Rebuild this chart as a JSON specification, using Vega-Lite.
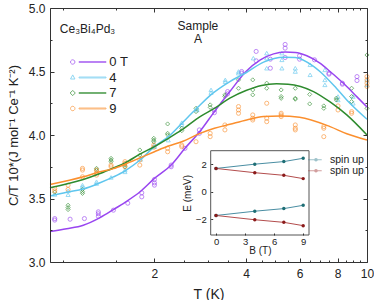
{
  "$schema": "https://vega.github.io/schema/vega-lite/v6.json",
  "width": 317,
  "height": 254,
  "autosize": "none",
  "padding": {"left": 50, "top": 8, "right": 7, "bottom": 38},
  "config": {
    "font": "Liberation Sans",
    "view": {"stroke": null},
    "axis": {"grid": false, "domainColor": "#333", "tickColor": "#333", "labelColor": "#222", "titleColor": "#222", "labelFont": "Liberation Sans", "titleFont": "Liberation Sans", "titleFontWeight": "normal"},
    "legend": {"labelFont": "Liberation Sans", "labelColor": "#222"}
  },
  "datasets": {
    "pts": [
      {"T":0.94,"C":3.342,"s":"0 T"},{"T":0.94,"C":3.33,"s":"0 T"},{"T":1.056,"C":3.337,"s":"0 T"},{"T":1.177,"C":3.342,"s":"0 T"},{"T":1.308,"C":3.395,"s":"0 T"},{"T":1.308,"C":3.38,"s":"0 T"},{"T":1.308,"C":3.36,"s":"0 T"},{"T":1.466,"C":3.408,"s":"0 T"},{"T":1.634,"C":3.463,"s":"0 T"},{"T":1.817,"C":3.545,"s":"0 T"},{"T":1.817,"C":3.513,"s":"0 T"},{"T":2.0,"C":3.65,"s":"0 T"},{"T":2.0,"C":3.623,"s":"0 T"},{"T":2.0,"C":3.605,"s":"0 T"},{"T":2.27,"C":3.763,"s":"0 T"},{"T":2.27,"C":3.75,"s":"0 T"},{"T":2.52,"C":3.895,"s":"0 T"},{"T":2.81,"C":4.04,"s":"0 T"},{"T":2.81,"C":4.013,"s":"0 T"},{"T":3.15,"C":4.176,"s":"0 T"},{"T":3.15,"C":4.197,"s":"0 T"},{"T":3.48,"C":4.342,"s":"0 T"},{"T":3.48,"C":4.324,"s":"0 T"},{"T":3.87,"C":4.5,"s":"0 T"},{"T":3.87,"C":4.487,"s":"0 T"},{"T":4.32,"C":4.658,"s":"0 T"},{"T":4.32,"C":4.584,"s":"0 T"},{"T":4.81,"C":4.597,"s":"0 T"},{"T":4.81,"C":4.526,"s":"0 T"},{"T":5.38,"C":4.713,"s":"0 T"},{"T":5.38,"C":4.684,"s":"0 T"},{"T":5.38,"C":4.61,"s":"0 T"},{"T":6.0,"C":4.624,"s":"0 T"},{"T":6.0,"C":4.597,"s":"0 T"},{"T":6.72,"C":4.592,"s":"0 T"},{"T":7.5,"C":4.487,"s":"0 T"},{"T":7.5,"C":4.479,"s":"0 T"},{"T":8.3,"C":4.408,"s":"0 T"},{"T":8.3,"C":4.4,"s":"0 T"},{"T":9.27,"C":4.46,"s":"0 T"},{"T":9.27,"C":4.429,"s":"0 T"},
      {"T":0.94,"C":3.532,"s":"4"},{"T":1.04,"C":3.56,"s":"4"},{"T":1.04,"C":3.53,"s":"4"},{"T":1.16,"C":3.605,"s":"4"},{"T":1.16,"C":3.592,"s":"4"},{"T":1.29,"C":3.632,"s":"4"},{"T":1.29,"C":3.618,"s":"4"},{"T":1.44,"C":3.666,"s":"4"},{"T":1.6,"C":3.724,"s":"4"},{"T":1.6,"C":3.71,"s":"4"},{"T":1.8,"C":3.808,"s":"4"},{"T":2.0,"C":3.908,"s":"4"},{"T":2.0,"C":3.92,"s":"4"},{"T":2.22,"C":3.96,"s":"4"},{"T":2.46,"C":4.097,"s":"4"},{"T":2.46,"C":4.08,"s":"4"},{"T":2.76,"C":4.21,"s":"4"},{"T":2.76,"C":4.197,"s":"4"},{"T":3.07,"C":4.355,"s":"4"},{"T":3.07,"C":4.334,"s":"4"},{"T":3.42,"C":4.434,"s":"4"},{"T":3.42,"C":4.42,"s":"4"},{"T":3.78,"C":4.5,"s":"4"},{"T":3.78,"C":4.487,"s":"4"},{"T":4.23,"C":4.605,"s":"4"},{"T":4.68,"C":4.645,"s":"4"},{"T":4.68,"C":4.605,"s":"4"},{"T":4.68,"C":4.526,"s":"4"},{"T":5.25,"C":4.645,"s":"4"},{"T":5.25,"C":4.592,"s":"4"},{"T":5.25,"C":4.526,"s":"4"},{"T":5.81,"C":4.526,"s":"4"},{"T":5.81,"C":4.5,"s":"4"},{"T":6.5,"C":4.553,"s":"4"},{"T":6.5,"C":4.474,"s":"4"},{"T":7.27,"C":4.513,"s":"4"},{"T":7.27,"C":4.434,"s":"4"},{"T":7.27,"C":4.395,"s":"4"},{"T":8.03,"C":4.303,"s":"4"},{"T":8.03,"C":4.276,"s":"4"},{"T":9.0,"C":4.303,"s":"4"},{"T":9.0,"C":4.25,"s":"4"},{"T":10,"C":4.434,"s":"4"},{"T":10,"C":4.395,"s":"4"},
      {"T":0.94,"C":3.55,"s":"7"},{"T":1.04,"C":3.447,"s":"7"},{"T":1.04,"C":3.429,"s":"7"},{"T":1.04,"C":3.413,"s":"7"},{"T":1.16,"C":3.571,"s":"7"},{"T":1.16,"C":3.553,"s":"7"},{"T":1.16,"C":3.54,"s":"7"},{"T":1.29,"C":3.737,"s":"7"},{"T":1.29,"C":3.724,"s":"7"},{"T":1.44,"C":3.816,"s":"7"},{"T":1.44,"C":3.803,"s":"7"},{"T":1.44,"C":3.79,"s":"7"},{"T":1.6,"C":3.763,"s":"7"},{"T":1.6,"C":3.75,"s":"7"},{"T":1.79,"C":3.882,"s":"7"},{"T":1.79,"C":3.842,"s":"7"},{"T":1.99,"C":3.974,"s":"7"},{"T":1.99,"C":3.96,"s":"7"},{"T":1.99,"C":3.947,"s":"7"},{"T":2.21,"C":4.087,"s":"7"},{"T":2.21,"C":4.013,"s":"7"},{"T":2.21,"C":4.0,"s":"7"},{"T":2.46,"C":4.053,"s":"7"},{"T":2.46,"C":4.034,"s":"7"},{"T":2.74,"C":4.21,"s":"7"},{"T":2.74,"C":4.184,"s":"7"},{"T":3.05,"C":4.237,"s":"7"},{"T":3.05,"C":4.218,"s":"7"},{"T":3.41,"C":4.316,"s":"7"},{"T":3.41,"C":4.303,"s":"7"},{"T":3.78,"C":4.434,"s":"7"},{"T":3.78,"C":4.368,"s":"7"},{"T":4.21,"C":4.434,"s":"7"},{"T":4.21,"C":4.355,"s":"7"},{"T":4.21,"C":4.316,"s":"7"},{"T":4.68,"C":4.408,"s":"7"},{"T":4.68,"C":4.368,"s":"7"},{"T":5.22,"C":4.355,"s":"7"},{"T":5.22,"C":4.303,"s":"7"},{"T":5.22,"C":4.289,"s":"7"},{"T":5.81,"C":4.368,"s":"7"},{"T":5.81,"C":4.289,"s":"7"},{"T":5.81,"C":4.282,"s":"7"},{"T":6.48,"C":4.32,"s":"7"},{"T":6.48,"C":4.245,"s":"7"},{"T":7.21,"C":4.229,"s":"7"},{"T":7.21,"C":4.21,"s":"7"},{"T":7.93,"C":4.29,"s":"7"},{"T":7.93,"C":4.276,"s":"7"},{"T":8.9,"C":4.368,"s":"7"},{"T":8.9,"C":4.303,"s":"7"},{"T":8.9,"C":4.263,"s":"7"},{"T":10,"C":4.63,"s":"7"},{"T":10,"C":4.21,"s":"7"},
      {"T":0.94,"C":3.579,"s":"9"},{"T":0.94,"C":3.56,"s":"9"},{"T":1.04,"C":3.605,"s":"9"},{"T":1.04,"C":3.571,"s":"9"},{"T":1.16,"C":3.737,"s":"9"},{"T":1.16,"C":3.724,"s":"9"},{"T":1.16,"C":3.671,"s":"9"},{"T":1.29,"C":3.724,"s":"9"},{"T":1.29,"C":3.703,"s":"9"},{"T":1.29,"C":3.684,"s":"9"},{"T":1.44,"C":3.763,"s":"9"},{"T":1.44,"C":3.75,"s":"9"},{"T":1.6,"C":3.79,"s":"9"},{"T":1.6,"C":3.776,"s":"9"},{"T":1.6,"C":3.75,"s":"9"},{"T":1.79,"C":3.803,"s":"9"},{"T":1.79,"C":3.763,"s":"9"},{"T":1.99,"C":3.92,"s":"9"},{"T":1.99,"C":3.903,"s":"9"},{"T":2.21,"C":3.895,"s":"9"},{"T":2.21,"C":3.868,"s":"9"},{"T":2.46,"C":3.92,"s":"9"},{"T":2.46,"C":3.908,"s":"9"},{"T":2.74,"C":3.947,"s":"9"},{"T":3.05,"C":4.013,"s":"9"},{"T":3.05,"C":3.987,"s":"9"},{"T":3.41,"C":4.079,"s":"9"},{"T":3.41,"C":4.04,"s":"9"},{"T":3.78,"C":4.224,"s":"9"},{"T":3.78,"C":4.197,"s":"9"},{"T":3.78,"C":4.171,"s":"9"},{"T":4.21,"C":4.158,"s":"9"},{"T":4.21,"C":4.132,"s":"9"},{"T":4.21,"C":4.118,"s":"9"},{"T":4.68,"C":4.25,"s":"9"},{"T":4.68,"C":4.132,"s":"9"},{"T":4.68,"C":4.105,"s":"9"},{"T":5.22,"C":4.171,"s":"9"},{"T":5.22,"C":4.158,"s":"9"},{"T":5.22,"C":4.145,"s":"9"},{"T":5.81,"C":4.079,"s":"9"},{"T":5.81,"C":4.053,"s":"9"},{"T":5.81,"C":4.04,"s":"9"},{"T":7.21,"C":4.066,"s":"9"},{"T":7.21,"C":4.053,"s":"9"},{"T":7.21,"C":3.987,"s":"9"},{"T":8.03,"C":4.229,"s":"9"},{"T":8.03,"C":4.197,"s":"9"},{"T":8.9,"C":4.184,"s":"9"},{"T":8.9,"C":4.171,"s":"9"},{"T":10,"C":4.46,"s":"9"},{"T":10,"C":4.434,"s":"9"},{"T":10,"C":4.408,"s":"9"},{"T":10,"C":4.382,"s":"9"}
    ],
    "fit": [
      {"T":0.907,"C":3.24,"s":"0 T"},{"T":1.029,"C":3.262,"s":"0 T"},{"T":1.167,"C":3.29,"s":"0 T"},{"T":1.325,"C":3.35,"s":"0 T"},{"T":1.466,"C":3.413,"s":"0 T"},{"T":1.601,"C":3.47,"s":"0 T"},{"T":1.794,"C":3.553,"s":"0 T"},{"T":2.0,"C":3.658,"s":"0 T"},{"T":2.27,"C":3.763,"s":"0 T"},{"T":2.52,"C":3.895,"s":"0 T"},{"T":2.83,"C":4.032,"s":"0 T"},{"T":3.15,"C":4.184,"s":"0 T"},{"T":3.54,"C":4.342,"s":"0 T"},{"T":4.0,"C":4.5,"s":"0 T"},{"T":4.46,"C":4.592,"s":"0 T"},{"T":4.93,"C":4.639,"s":"0 T"},{"T":5.38,"C":4.653,"s":"0 T"},{"T":5.81,"C":4.65,"s":"0 T"},{"T":6.34,"C":4.624,"s":"0 T"},{"T":7.0,"C":4.566,"s":"0 T"},{"T":7.56,"C":4.5,"s":"0 T"},{"T":8.58,"C":4.382,"s":"0 T"},{"T":9.27,"C":4.3,"s":"0 T"},{"T":10,"C":4.22,"s":"0 T"},
      {"T":0.907,"C":3.52,"s":"4"},{"T":1.029,"C":3.55,"s":"4"},{"T":1.167,"C":3.575,"s":"4"},{"T":1.325,"C":3.624,"s":"4"},{"T":1.466,"C":3.67,"s":"4"},{"T":1.601,"C":3.718,"s":"4"},{"T":1.794,"C":3.803,"s":"4"},{"T":2.0,"C":3.908,"s":"4"},{"T":2.224,"C":3.987,"s":"4"},{"T":2.46,"C":4.092,"s":"4"},{"T":2.756,"C":4.21,"s":"4"},{"T":3.064,"C":4.316,"s":"4"},{"T":3.54,"C":4.421,"s":"4"},{"T":4.0,"C":4.49,"s":"4"},{"T":4.57,"C":4.574,"s":"4"},{"T":5.32,"C":4.613,"s":"4"},{"T":5.81,"C":4.61,"s":"4"},{"T":6.67,"C":4.54,"s":"4"},{"T":7.0,"C":4.5,"s":"4"},{"T":7.93,"C":4.368,"s":"4"},{"T":8.58,"C":4.276,"s":"4"},{"T":10,"C":4.124,"s":"4"},
      {"T":0.907,"C":3.585,"s":"7"},{"T":1.167,"C":3.65,"s":"7"},{"T":1.325,"C":3.697,"s":"7"},{"T":1.466,"C":3.74,"s":"7"},{"T":1.601,"C":3.78,"s":"7"},{"T":1.794,"C":3.85,"s":"7"},{"T":2.0,"C":3.908,"s":"7"},{"T":2.224,"C":3.974,"s":"7"},{"T":2.46,"C":4.04,"s":"7"},{"T":2.826,"C":4.145,"s":"7"},{"T":3.15,"C":4.21,"s":"7"},{"T":3.54,"C":4.29,"s":"7"},{"T":4.0,"C":4.35,"s":"7"},{"T":4.5,"C":4.39,"s":"7"},{"T":5.04,"C":4.403,"s":"7"},{"T":5.5,"C":4.4,"s":"7"},{"T":6.67,"C":4.342,"s":"7"},{"T":7.56,"C":4.26,"s":"7"},{"T":8.58,"C":4.158,"s":"7"},{"T":10,"C":4.0,"s":"7"},
      {"T":0.907,"C":3.61,"s":"9"},{"T":1.167,"C":3.671,"s":"9"},{"T":1.325,"C":3.71,"s":"9"},{"T":1.466,"C":3.735,"s":"9"},{"T":1.601,"C":3.77,"s":"9"},{"T":1.794,"C":3.82,"s":"9"},{"T":2.0,"C":3.868,"s":"9"},{"T":2.224,"C":3.913,"s":"9"},{"T":2.46,"C":3.947,"s":"9"},{"T":2.826,"C":4.013,"s":"9"},{"T":3.15,"C":4.053,"s":"9"},{"T":3.54,"C":4.084,"s":"9"},{"T":4.02,"C":4.118,"s":"9"},{"T":4.57,"C":4.145,"s":"9"},{"T":5.18,"C":4.15,"s":"9"},{"T":6.0,"C":4.14,"s":"9"},{"T":7.56,"C":4.066,"s":"9"},{"T":8.58,"C":4.01,"s":"9"},{"T":10,"C":3.96,"s":"9"}
    ],
    "ins": [
      {"B":0,"E":1.71,"spin":"a","branch":"ua"},{"B":4,"E":2.02,"spin":"a","branch":"ua"},{"B":7,"E":2.21,"spin":"a","branch":"ua"},{"B":9,"E":2.45,"spin":"a","branch":"ua"},
      {"B":0,"E":-1.71,"spin":"a","branch":"la"},{"B":4,"E":-1.4,"spin":"a","branch":"la"},{"B":7,"E":-1.21,"spin":"a","branch":"la"},{"B":9,"E":-0.97,"spin":"a","branch":"la"},
      {"B":0,"E":1.71,"spin":"b","branch":"ub"},{"B":4,"E":1.4,"spin":"b","branch":"ub"},{"B":7,"E":1.21,"spin":"b","branch":"ub"},{"B":9,"E":0.97,"spin":"b","branch":"ub"},
      {"B":0,"E":-1.71,"spin":"b","branch":"lb"},{"B":4,"E":-2.02,"spin":"b","branch":"lb"},{"B":7,"E":-2.21,"spin":"b","branch":"lb"},{"B":9,"E":-2.45,"spin":"b","branch":"lb"}
    ]
  },
  "layer": [
    {
      "layer": [
        {
          "data": {"name": "pts"},
          "mark": {"type": "point", "filled": false, "strokeWidth": 0.9, "size": 17},
          "encoding": {
            "x": {"field": "T", "type": "quantitative", "scale": {"type": "log", "domain": [0.907, 10], "nice": false},
              "axis": {"orient": "bottom", "values": [1,1.5,2,2.5,3,3.5,4,4.5,5,5.5,6,6.5,7,7.5,8,8.5,9,9.5,10],
                "labelExpr": "datum.value % 2 === 0 ? format(datum.value, 'd') : ''",
                "tickSize": {"condition": {"test": "datum.value % 2 === 0", "value": -4}, "value": -2},
                "labelPadding": 10, "labelFontSize": 12, "labelOverlap": false, "labelFlush": false,
                "title": "T (K)", "titleFontSize": 14, "titlePadding": 6, "zindex": 1}},
            "y": {"field": "C", "type": "quantitative", "scale": {"domain": [3, 5], "nice": false, "zero": false},
              "axis": {"orient": "left", "values": [3,3.25,3.5,3.75,4,4.25,4.5,4.75,5],
                "labelExpr": "datum.value * 2 % 1 === 0 ? format(datum.value, '.1f') : ''",
                "tickSize": {"condition": {"test": "datum.value * 2 % 1 === 0", "value": -4}, "value": -2},
                "labelPadding": 9, "labelFontSize": 12, "labelOverlap": false,
                "title": "C/T 10*(J mol⁻¹ Ce⁻¹ K⁻²)", "titleFontSize": 13, "titlePadding": 8, "zindex": 1}},
            "color": {"field": "s", "type": "nominal", "scale": {"domain": ["0 T","4","7","9"], "range": ["#9945f0","#5fc6ee","#2e8b2e","#fb8f2e"]}, "legend": null},
            "shape": {"field": "s", "type": "nominal", "scale": {"domain": ["0 T","4","7","9"], "range": ["circle","triangle-up","diamond","circle"]}, "legend": null}
          }
        },
        {
          "data": {"name": "fit"},
          "mark": {"type": "line", "strokeWidth": 1.5, "interpolate": "monotone"},
          "encoding": {
            "x": {"field": "T", "type": "quantitative", "scale": {"type": "log", "domain": [0.907, 10], "nice": false}, "axis": null},
            "y": {"field": "C", "type": "quantitative", "scale": {"domain": [3, 5], "nice": false, "zero": false}, "axis": null},
            "color": {"field": "s", "type": "nominal", "scale": {"domain": ["0 T","4","7","9"], "range": ["#9945f0","#5fc6ee","#2e8b2e","#fb8f2e"]}, "legend": null}
          }
        },
        {
          "data": {"name": "pts"},
          "transform": [{"filter": "false"}],
          "mark": {"type": "point", "filled": false, "strokeWidth": 1},
          "encoding": {
            "x": {"field": "T", "type": "quantitative", "axis": null},
            "y": {"field": "C", "type": "quantitative", "axis": null},
            "color": {"field": "s", "type": "nominal", "scale": {"domain": ["0 T","4","7","9"], "range": ["#9945f0","#5fc6ee","#2e8b2e","#fb8f2e"]},
              "legend": {"orient": "none", "legendX": 44.3, "legendY": 47.5, "title": null, "symbolSize": 144, "symbolStrokeWidth": 1, "labelFontSize": 13, "labelOffset": 2, "rowPadding": 1.5}},
            "shape": {"field": "s", "type": "nominal", "scale": {"domain": ["0 T","4","7","9"], "range": [
              "M-4.31,0L-4.36,0.185L-4.495,0.32L-4.68,0.37L-4.865,0.32L-5,0.185L-5.05,0L-5,-0.185L-4.865,-0.32L-4.68,-0.37L-4.495,-0.32L-4.36,-0.185ZM-3.63,-0.075L0.87,-0.075L0.87,0.075L-3.63,0.075Z",
              "M-4.68,-0.43L-4.31,0.25L-5.05,0.25ZM-3.63,-0.075L0.87,-0.075L0.87,0.075L-3.63,0.075Z",
              "M-4.68,-0.43L-4.25,0L-4.68,0.43L-5.11,0ZM-3.63,-0.075L0.87,-0.075L0.87,0.075L-3.63,0.075Z",
              "M-4.31,0L-4.36,0.185L-4.495,0.32L-4.68,0.37L-4.865,0.32L-5,0.185L-5.05,0L-5,-0.185L-4.865,-0.32L-4.68,-0.37L-4.495,-0.32L-4.36,-0.185ZM-3.63,-0.075L0.87,-0.075L0.87,0.075L-3.63,0.075Z"]},
              "legend": {"orient": "none", "legendX": 44.3, "legendY": 47.5, "title": null, "symbolSize": 144, "symbolStrokeWidth": 1, "labelFontSize": 13, "labelOffset": 2, "rowPadding": 1.5}}
          }
        },
        {
          "data": {"values": [{}]},
          "mark": {"type": "text", "fontSize": 12, "color": "#222", "align": "center", "baseline": "middle"},
          "encoding": {
            "x": {"datum": 1.205, "type": "quantitative", "axis": null},
            "y": {"datum": 4.835, "type": "quantitative", "axis": null},
            "text": {"value": "Ce₃Bi₄Pd₃"}
          }
        },
        {
          "data": {"values": [{}]},
          "mark": {"type": "text", "fontSize": 12, "color": "#222", "align": "center", "baseline": "top", "lineBreak": "\n", "lineHeight": 13},
          "encoding": {
            "x": {"datum": 2.779, "type": "quantitative", "axis": null},
            "y": {"datum": 4.898, "type": "quantitative", "axis": null},
            "text": {"value": "Sample\nA"}
          }
        },
        {
          "data": {"name": "fit"},
          "mark": {"type": "point", "opacity": 0},
          "encoding": {
            "x": {"field": "T", "type": "quantitative",
              "axis": {"orient": "top", "values": [1,1.5,2,2.5,3,3.5,4,4.5,5,5.5,6,6.5,7,7.5,8,8.5,9,9.5,10], "labels": false, "title": null,
                "tickSize": {"condition": {"test": "datum.value % 2 === 0", "value": -4}, "value": -2}, "zindex": 1}},
            "y": {"field": "C", "type": "quantitative",
              "axis": {"orient": "right", "values": [3,3.25,3.5,3.75,4,4.25,4.5,4.75,5], "labels": false, "title": null,
                "tickSize": {"condition": {"test": "datum.value * 2 % 1 === 0", "value": -4}, "value": -2}, "zindex": 1}}
          }
        }
      ],
      "resolve": {"scale": {"color": "independent", "shape": "independent"}, "axis": {"x": "independent", "y": "independent"}}
    },
    {
      "layer": [
        {
          "data": {"values": [{}]},
          "mark": {"type": "rect", "fill": "white", "stroke": "#555", "strokeWidth": 1},
          "encoding": {
            "x": {"datum": -0.55, "type": "quantitative", "axis": null},
            "x2": {"datum": 9.6},
            "y": {"datum": -3.13, "type": "quantitative", "axis": null},
            "y2": {"datum": 3.0}
          }
        },
        {
          "data": {"name": "ins"},
          "mark": {"type": "line", "strokeWidth": 1},
          "encoding": {
            "x": {"field": "B", "type": "quantitative", "scale": {"domain": [-0.55, 9.6], "range": [160.7, 259], "nice": false, "zero": false},
              "axis": {"orient": "bottom", "offset": -27, "values": [0,3,6,9], "format": "d", "tickSize": -2, "labelPadding": 3, "labelFontSize": 9.5, "domain": false,
                "title": "B (T)", "titleFontSize": 10, "titlePadding": 0, "zindex": 2}},
            "y": {"field": "E", "type": "quantitative", "scale": {"domain": [-3.13, 3.0], "range": [227, 142.7], "nice": false, "zero": false},
              "axis": {"orient": "left", "offset": -160.7, "values": [-2,0,2], "format": "d", "tickSize": -2, "labelPadding": 6.5, "labelFontSize": 9.5, "domain": false,
                "title": "E (meV)", "titleFontSize": 10, "titlePadding": 2.5, "zindex": 2}},
            "color": {"field": "spin", "type": "nominal", "scale": {"domain": ["a","b"], "range": ["#4a8ea3","#b34d4d"]}, "legend": null},
            "detail": {"field": "branch"}
          }
        },
        {
          "data": {"name": "ins"},
          "mark": {"type": "point", "filled": true, "size": 12, "opacity": 1},
          "encoding": {
            "x": {"field": "B", "type": "quantitative", "axis": null},
            "y": {"field": "E", "type": "quantitative", "axis": null},
            "fill": {"field": "spin", "type": "nominal", "scale": {"domain": ["a","b"], "range": ["#1e6e74","#8b1a1a"]}, "legend": null}
          }
        },
        {
          "data": {"name": "ins"},
          "transform": [{"filter": "false"}],
          "mark": {"type": "point", "filled": true},
          "encoding": {
            "x": {"field": "B", "type": "quantitative", "axis": null},
            "y": {"field": "E", "type": "quantitative", "axis": null},
            "fill": {"field": "spin", "type": "nominal", "scale": {"domain": ["a","b"], "range": ["#3a8293","#a33a3a"]},
              "legend": {"orient": "none", "legendX": 267.5, "legendY": 146.5, "title": null, "symbolSize": 64, "symbolStrokeWidth": 0, "labelFontSize": 10.5, "labelOffset": 2, "rowPadding": 0, "labelExpr": "'spin up'"}},
            "shape": {"field": "spin", "type": "nominal", "scale": {"domain": ["a","b"], "range": [
              "M-1.24,0L-1.3,0.225L-1.465,0.39L-1.69,0.45L-1.915,0.39L-2.08,0.225L-2.14,0L-2.08,-0.225L-1.915,-0.39L-1.69,-0.45L-1.465,-0.39L-1.3,-0.225ZM-3.69,-0.14L-0.26,-0.14L-0.26,0.14L-3.69,0.14Z",
              "M-1.24,0L-1.3,0.225L-1.465,0.39L-1.69,0.45L-1.915,0.39L-2.08,0.225L-2.14,0L-2.08,-0.225L-1.915,-0.39L-1.69,-0.45L-1.465,-0.39L-1.3,-0.225ZM-3.69,-0.14L-0.26,-0.14L-0.26,0.14L-3.69,0.14Z"]},
              "legend": {"orient": "none", "legendX": 267.5, "legendY": 146.5, "title": null, "symbolSize": 64, "symbolStrokeWidth": 0, "labelFontSize": 10.5, "labelOffset": 2, "rowPadding": 0, "labelExpr": "'spin up'"}}
          }
        }
      ],
      "resolve": {"scale": {"color": "independent", "fill": "independent", "shape": "independent"}, "axis": {"x": "independent", "y": "independent"}}
    }
  ],
  "resolve": {"scale": {"x": "independent", "y": "independent", "color": "independent", "fill": "independent", "shape": "independent"}}
}
